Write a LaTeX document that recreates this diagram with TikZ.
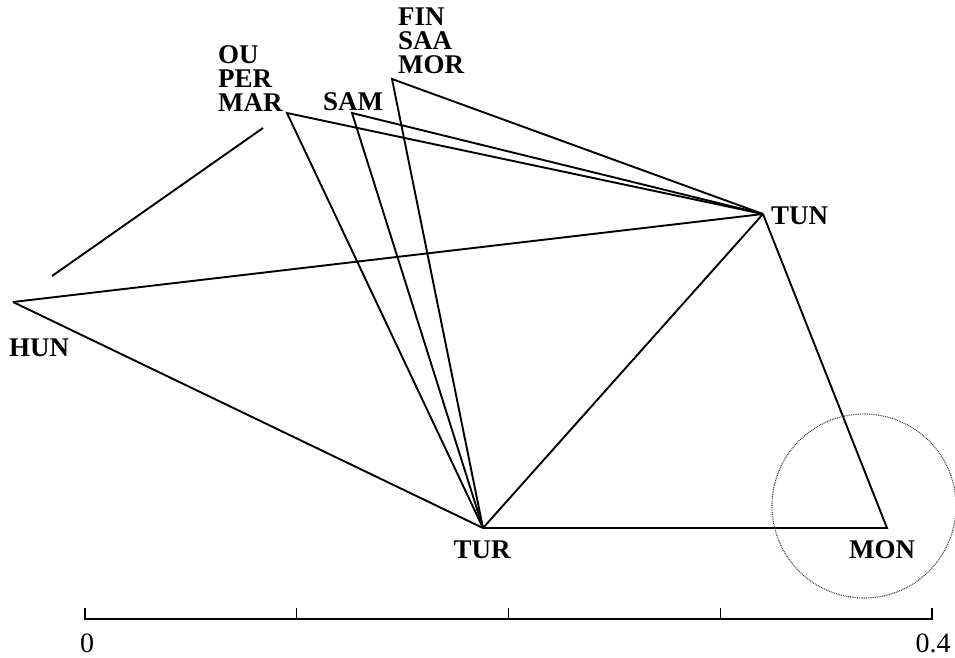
\documentclass[tikz,border=0pt]{standalone}
\usepackage{fontspec}
\setmainfont{Liberation Serif}
\begin{document}
\begin{tikzpicture}[x=1pt,y=-1pt,
  edge/.style={line width=1.9pt,line join=miter},
  lab/.style={font=\bfseries\fontsize{27}{24}\selectfont,inner sep=0pt},
  scalelab/.style={font=\fontsize{28}{28}\selectfont,inner sep=0pt,anchor=base},
  bar/.style={line width=1.4pt}]
\useasboundingbox (0,0) rectangle (955,657);
% vertices
\coordinate (HUN) at (13,302);
\coordinate (TUR) at (483,528);
\coordinate (TUN) at (763,214);
\coordinate (MON) at (887,528);
\coordinate (MAR) at (287,113);
\coordinate (SAM) at (352,113);
\coordinate (FIN) at (392,79);
\coordinate (s1) at (52,276);
\coordinate (s2) at (263,128);
% edges
\draw[edge] (HUN) -- (TUN);
\draw[edge] (HUN) -- (TUR);
\draw[edge] (TUR) -- (TUN);
\draw[edge] (TUR) -- (MON) -- (TUN);
\draw[edge] (TUR) -- (MAR) -- (TUN);
\draw[edge] (TUR) -- (SAM) -- (TUN);
\draw[edge] (TUR) -- (FIN) -- (TUN);
\draw[edge] (s1) -- (s2);
% circle
\begin{scope}
\clip (0,0) rectangle (955,657);
\node[draw=black!75,dash pattern=on 0.9pt off 0.9pt,line width=1.1pt,circle,minimum size=184pt,inner sep=0pt] (ring) at (864,506) {};
\end{scope}
% labels
\node[lab,anchor=base] (lHUN) at (39,356) {HUN};
\node[lab,anchor=base] (lTUR) at (482,558) {TUR};
\node[lab,anchor=base west] (lTUN) at (771,224) {TUN};
\node[lab,anchor=base] (lMON) at (882,558) {MON};
\node[lab,anchor=north west,align=left] (lMARg) at (218,45) {OU\\PER\\MAR};
\node[lab,anchor=base west] (lSAM) at (323,110) {SAM};
\node[lab,anchor=north west,align=left] (lFINg) at (398,8) {FIN\\SAA\\MOR};
% scale bar
\coordinate (b0) at (85,619);
\coordinate (b4) at (932,619);
\draw[bar] (85,608) -- (b0) -- (b4) -- (932,608);
\foreach \x in {296.75,508.5,720.25} \draw[bar] (\x,608) -- (\x,619);
\node[scalelab] (z0) at (87,652) {0};
\node[scalelab] (z4) at (933,652) {0.4};
\end{tikzpicture}
\end{document}
